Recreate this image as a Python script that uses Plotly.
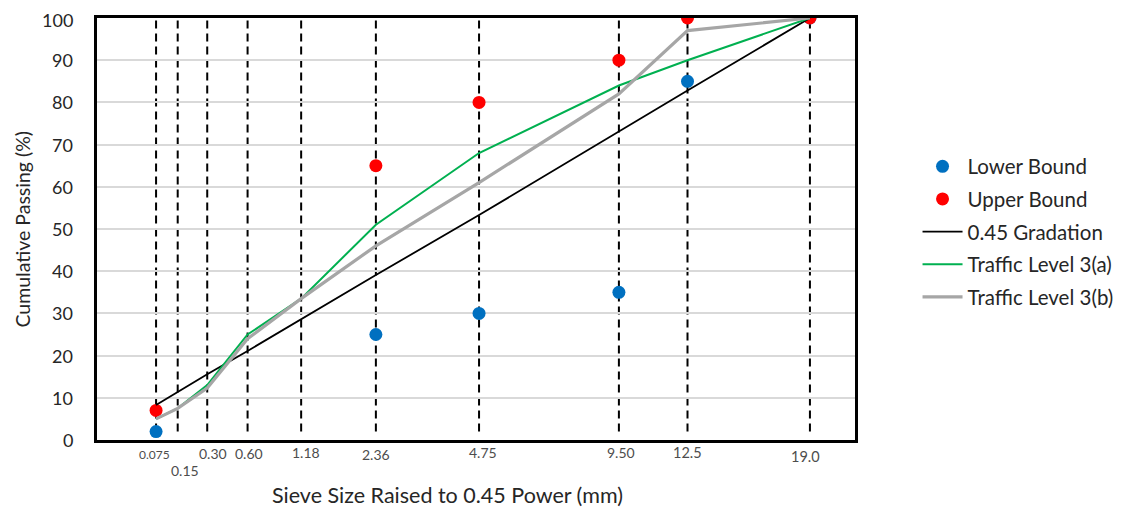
import plotly.graph_objects as go

sieves = [0.075, 0.15, 0.30, 0.60, 1.18, 2.36, 4.75, 9.50, 12.5, 19.0]
sieve_labels = ["0.075", "0.15", "0.30", "0.60", "1.18", "2.36", "4.75", "9.50", "12.5", "19.0"]
y_ticks = [0, 10, 20, 30, 40, 50, 60, 70, 80, 90, 100]

bound_sieves = [0.075, 2.36, 4.75, 9.50, 12.5, 19.0]
lower_bound = [2, 25, 30, 35, 85, 100]
upper_bound = [7, 65, 80, 90, 100, 100]

gradation_045 = [8.3, 11.4, 15.6, 21.1, 28.6, 39.1, 53.3, 73.2, 82.8, 100]
traffic_3a = [5, 7.5, 13, 25, 33.5, 51, 68, 84, 90, 100]
traffic_3b = [5, 7.5, 12.3, 24, 33.5, 46, 61, 82, 97, 100]

xs = [s ** 0.45 for s in sieves]
bxs = [s ** 0.45 for s in bound_sieves]

font = "Lato"
txt = "#262626"
fig = go.Figure()

fig.add_trace(go.Scatter(x=bxs, y=lower_bound, mode="markers", name="Lower Bound", legendgroup="a",
                         marker=dict(color="#0070C0", size=13)))
fig.add_trace(go.Scatter(x=bxs, y=upper_bound, mode="markers", name="Upper Bound", legendgroup="b",
                         marker=dict(color="#FF0000", size=13)))
fig.add_trace(go.Scatter(x=xs, y=gradation_045, mode="lines", name="0.45 Gradation", legendgroup="c",
                         line=dict(color="black", width=1.8)))
fig.add_trace(go.Scatter(x=xs, y=traffic_3a, mode="lines", name="Traffic Level 3(a)", legendgroup="d",
                         line=dict(color="#00B050", width=2)))
fig.add_trace(go.Scatter(x=xs, y=traffic_3b, mode="lines", name="Traffic Level 3(b)", legendgroup="e",
                         line=dict(color="#A6A6A6", width=3.2)))

# dashed vertical sieve lines
for x in xs:
    fig.add_shape(type="line", x0=x, x1=x, y0=2, y1=100, xref="x", yref="y",
                  line=dict(color="black", width=2, dash="8px,5px"), layer="below")

# sieve tick labels (pixel offsets of the hand-placed labels)
label_dx = {"0.075": -2, "0.15": 7, "0.30": 6, "0.60": 1, "1.18": 5, "2.36": 0,
            "4.75": 4, "9.50": 2, "12.5": 0, "19.0": -4}
label_dy = {"0.075": 14, "0.15": 30, "0.30": 13, "0.60": 13, "1.18": 12, "2.36": 14,
            "4.75": 12, "9.50": 12, "12.5": 12, "19.0": 16}
label_fs = {"0.075": 12, "0.15": 14, "0.30": 14, "0.60": 14, "1.18": 14, "2.36": 14,
            "4.75": 14, "9.50": 14, "12.5": 14.5, "19.0": 14.5}
for x, lab in zip(xs, sieve_labels):
    fig.add_annotation(x=x, y=0, xref="x", yref="y", text=lab, showarrow=False,
                       yanchor="middle", xanchor="center",
                       yshift=-label_dy[lab], xshift=label_dx[lab],
                       font=dict(family=font, size=label_fs[lab], color="#4d4d4d"))

# y tick labels
for v in y_ticks:
    fig.add_annotation(x=0, y=v, xref="paper", yref="y", text=str(v), showarrow=False,
                       xanchor="right", yanchor="middle", xshift=-22,
                       yshift=-2 if v == y_ticks[-1] else 0,
                       font=dict(family=font, size=18, color=txt))

# axis titles
fig.add_annotation(x=0.463, y=0, xref="paper", yref="paper", yshift=-55,
                   text="Sieve Size Raised to 0.45 Power (mm)", showarrow=False,
                   xanchor="center", yanchor="middle",
                   font=dict(family=font, size=21.5, color=txt))
fig.add_annotation(x=-0.0995, y=0.5, xref="paper", yref="paper", textangle=-90,
                   text="Cumulative Passing (%)", showarrow=False,
                   xanchor="center", yanchor="middle",
                   font=dict(family=font, size=19.5, color=txt))

fig.update_layout(
    width=1115, height=502,
    margin=dict(l=89, r=268, t=10, b=70, autoexpand=False),
    plot_bgcolor="white", paper_bgcolor="white",
    font=dict(family=font, color=txt),
    legend=dict(x=1.0825, y=0.493, yanchor="middle", xanchor="left",
                font=dict(family=font, size=20.5, color=txt),
                tracegroupgap=3, itemwidth=40),
    showlegend=True,
)
fig.update_xaxes(range=[0, 4], showticklabels=False, showgrid=False, zeroline=False,
                 showline=True, linecolor="black", linewidth=3, mirror=True, ticks="",
                 automargin=False)
fig.update_yaxes(range=[0, 100], tickvals=y_ticks, showticklabels=False, showgrid=True,
                 gridcolor="#D9D9D9", gridwidth=1.5,
                 zeroline=False, showline=True, linecolor="black", linewidth=3, mirror=True,
                 ticks="", automargin=False)

fig.write_html("out.html")
